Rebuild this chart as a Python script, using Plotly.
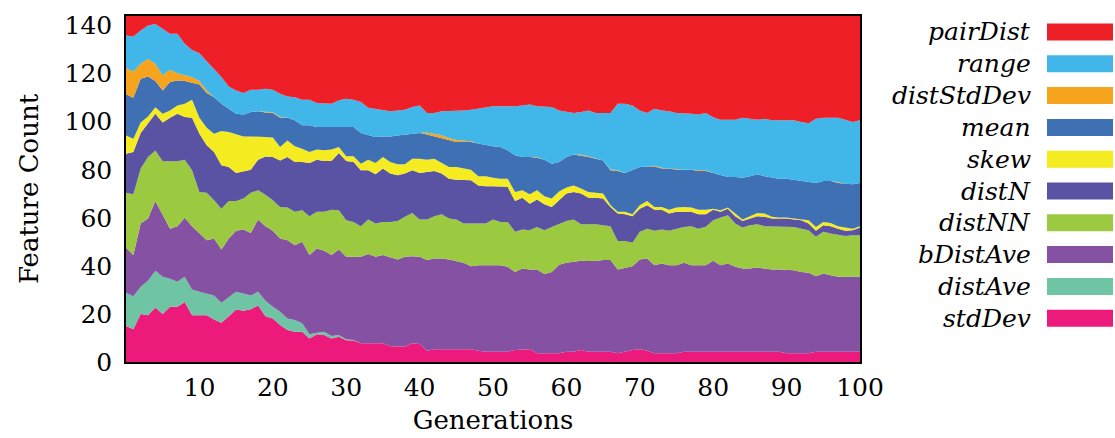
import plotly.graph_objects as go

generations = list(range(0, 101))

stdDev = [15, 13.6, 20, 19.5, 22.7, 20, 23, 23, 25, 19.5, 19.5, 19.5, 17.7, 16.3, 19, 21.9, 21.3, 22, 23.5, 19,
          18.1, 15.4, 13.3, 12.6, 12.6, 9.8, 11.6, 11.2, 9.8, 10.5, 9.1, 8.9, 7.8, 7.8, 7.8, 7.8, 6.6, 6.4, 6.4, 7.8,
          7.5, 4.7, 5.3, 5.3, 5.3, 5.3, 5.3, 5.3, 4.7, 4.3, 4.3, 4.3, 4.3, 5.0, 5.3, 5.3, 3.6, 3.6, 3.6, 3.6,
          4.3, 4.3, 5.0, 4.3, 4.3, 4.3, 4.3, 3.6, 4.3, 5.0, 5.3, 4.7, 3.6, 3.6, 3.6, 3.6, 4.3, 4.3, 4.3, 4.3,
          4.3, 4.3, 4.3, 4.3, 4.3, 4.3, 4.3, 4.3, 4.3, 4.3, 3.6, 3.6, 3.6, 3.6, 4.3, 4.3, 4.3, 4.3, 4.3, 4.3, 4.3]
distAve = [13.8, 13.8, 11.3, 14.3, 15.3, 15.5, 11.6, 10.4, 10.5, 10.7, 9.7, 9.0, 10.0, 8.4, 7.9, 7.3, 7.2, 5.7, 5.7, 6.5,
           4.9, 5.5, 4.8, 4.9, 3.5, 1.8, 0.6, 1.4, 1.0, 0.7, 0.4, 0.3, 0, 0, 0, 0, 0, 0, 0, 0,
           0, 0, 0, 0, 0, 0, 0, 0, 0, 0, 0, 0, 0, 0, 0, 0, 0, 0, 0, 0,
           0, 0, 0, 0, 0, 0, 0, 0, 0, 0, 0, 0, 0, 0, 0, 0, 0, 0, 0, 0,
           0, 0, 0, 0, 0, 0, 0, 0, 0, 0, 0, 0, 0, 0, 0, 0, 0, 0, 0, 0, 0]
bDistAve = [18.8, 17.1, 26.3, 25.9, 29.0, 25.5, 20.9, 23.1, 24.5, 26.3, 24.5, 22.2, 23.7, 22.1, 24.5, 25.4, 26.6, 26.0, 30.1, 31.0,
            31.6, 30.5, 32.6, 31.1, 33.9, 32.9, 35.0, 33.7, 33.7, 35.6, 34.3, 34.6, 36.0, 37.1, 36.0, 36.7, 36.9, 36.3, 37.4, 36.2,
            36.3, 37.7, 37.8, 37.8, 37.4, 36.8, 36.0, 34.6, 35.6, 36.0, 36.0, 36.0, 35.3, 32.5, 33.6, 33.2, 34.9, 33.0, 33.9, 36.9,
            37.0, 37.4, 37.1, 37.7, 37.7, 38.1, 38.1, 34.9, 35.0, 34.9, 37.4, 38.4, 36.7, 37.4, 36.7, 36.7, 37.0, 36.0, 36.0, 36.0,
            37.8, 36.0, 36.7, 35.3, 34.6, 34.6, 35.0, 34.6, 34.2, 34.2, 34.9, 34.6, 33.9, 33.5, 31.4, 32.5, 31.8, 31.2, 31.2, 31.2, 31.2]
distNN = [22.8, 25.3, 22.9, 25.6, 21.0, 22.5, 28.0, 27.0, 24.2, 23.3, 17.1, 19.7, 15.9, 17.0, 15.6, 12.4, 12.9, 16.7, 12.2, 13.1,
          12.7, 13.1, 13.6, 13.9, 13.2, 16.2, 15.3, 16.2, 18.9, 16.4, 15.2, 14.5, 12.7, 14.4, 13.8, 13.8, 14.8, 16.0, 16.6, 18.0,
          15.5, 16.9, 17.6, 18.4, 17.0, 17.2, 16.3, 17.7, 17.3, 17.3, 19.0, 18.0, 18.7, 16.7, 16.2, 16.3, 17.7, 18.2, 18.7, 17.1,
          17.4, 17.6, 15.2, 15.3, 15.3, 14.5, 14.1, 11.9, 11.1, 9.7, 11.5, 12.4, 14.3, 14.1, 14.3, 15.2, 14.9, 16.2, 15.2, 16.0,
          16.9, 19.8, 20.1, 18.0, 17.1, 18.0, 18.0, 17.6, 18.0, 18.0, 18.0, 18.0, 18.0, 17.7, 16.4, 17.4, 17.4, 17.3, 16.9, 17.3, 17.3]
distN = [16.3, 17.6, 14.8, 14.1, 15.3, 16.2, 18.2, 19.8, 17.8, 21.9, 24.2, 19.8, 20.1, 18.1, 14.2, 11.7, 11.5, 9.6, 12.7, 15.9,
         18.0, 19.4, 21.0, 20.7, 20.0, 22.1, 21.7, 21.2, 20.3, 23.8, 24.7, 24.9, 23.3, 20.5, 20.5, 22.2, 20.1, 19.0, 18.0, 17.8,
         19.4, 19.8, 18.8, 16.9, 16.6, 16.6, 18.3, 18.0, 15.9, 15.5, 13.8, 14.8, 14.6, 12.8, 13.3, 11.1, 11.4, 10.9, 8.3, 9.7,
         11.4, 11.5, 12.8, 11.1, 11.1, 11.1, 8.0, 11.4, 11.1, 11.1, 9.6, 9.7, 8.8, 8.3, 7.2, 7.0, 6.3, 6.0, 6.0, 5.2,
         4.4, 2.4, 2.7, 3.1, 2.7, 2.8, 3.4, 3.9, 3.2, 3.2, 3.2, 3.1, 3.5, 2.8, 2.5, 2.7, 3.0, 2.7, 2.2, 2.0, 3.2]
skew = [7.6, 5.5, 4.4, 2.8, 2.7, 3.6, 3.0, 3.5, 5.5, 7.4, 6.7, 7.3, 7.6, 14.2, 14.5, 16.0, 14.4, 13.9, 9.7, 8.1,
        8.1, 5.6, 6.9, 6.6, 5.6, 4.6, 4.2, 4.4, 4.7, 2.5, 1.9, 2.4, 2.7, 4.4, 4.7, 4.8, 4.8, 4.6, 3.9, 4.8,
        5.9, 5.1, 5.1, 4.4, 4.9, 5.3, 4.6, 4.4, 3.8, 4.2, 3.6, 3.2, 3.4, 3.8, 3.1, 3.9, 3.9, 3.3, 3.5, 3.7,
        2.5, 2.7, 2.1, 2.4, 2.0, 2.1, 0.8, 0.7, 1.0, 0.8, 1.4, 1.8, 1.1, 1.1, 1.6, 1.8, 2.0, 1.8, 1.9, 1.9,
        0.4, 0.7, 0.5, 1.1, 0.6, 1.0, 1.3, 1.4, 0.7, 0.4, 0.4, 0.4, 0.3, 1.4, 1.6, 1.4, 1.4, 1.0, 1.4, 0.7, 0.5]
mean = [17.1, 17.1, 18.2, 16.6, 10.9, 9.7, 11.8, 10.4, 9.4, 7.0, 13.8, 14.5, 15.2, 11.4, 9.7, 8.6, 9.1, 10.1, 10.5, 10.2,
        10.2, 12.2, 9.5, 10.8, 9.7, 11.1, 9.4, 9.7, 9.4, 8.6, 12.2, 12.2, 12.8, 10.1, 10.8, 8.6, 10.7, 12.0, 12.4, 10.4,
        10.7, 10.5, 9.3, 10.4, 11.0, 10.4, 11.1, 11.6, 13.6, 12.9, 13.1, 13.2, 11.8, 15.2, 13.8, 15.5, 13.5, 15.2, 14.5, 12.2,
        12.7, 12.9, 13.8, 14.5, 14.2, 13.8, 14.5, 17.0, 16.2, 18.5, 16.0, 14.4, 16.9, 16.0, 17.1, 15.7, 15.5, 15.7, 16.1, 16.1,
        14.9, 14.5, 12.7, 15.2, 17.4, 16.6, 16.1, 15.5, 16.3, 16.2, 16.2, 16.2, 16.3, 15.9, 18.3, 17.0, 17.4, 18.0, 18.2, 18.5, 18.0]
distStdDev = [11.0, 10.9, 6.2, 7.4, 7.2, 6.3, 5.1, 3.0, 2.4, 2.5, 1.4, 1.0, 0, 0, 0, 0, 0, 0, 0, 0.3,
              0.3, 0.3, 0, 0, 0, 0, 0, 0, 0, 0, 0, 0, 0, 0, 0, 0, 0, 0, 0, 0,
              0, 0.8, 1.2, 1.2, 1.0, 0.8, 0.5, 0.3, 0, 0, 0, 0, 0, 0, 0, 0, 0.3, 0, 0, 0,
              0, 0, 0.3, 0.3, 0, 0, 0.3, 0.3, 0, 0, 0, 0, 0.3, 0.3, 0, 0, 0, 0, 0.3, 0.3,
              0, 0, 0, 0, 0, 0, 0, 0, 0, 0, 0, 0, 0, 0, 0, 0, 0, 0.3, 0, 0, 0]
range_ = [13.5, 14.6, 13.9, 13.8, 16.6, 19.3, 15.0, 16.4, 13.1, 11.3, 11.6, 12.2, 11.8, 11.1, 9.3, 9.7, 9.0, 9.3, 8.9, 9.6,
          9.4, 9.6, 8.8, 9.6, 10.6, 10.6, 10.0, 9.7, 9.7, 10.8, 11.8, 11.3, 12.9, 11.5, 11.8, 11.1, 10.5, 10.4, 10.3, 11.1,
          11.5, 8.1, 8.5, 10.0, 11.2, 12.0, 12.6, 13.1, 14.5, 15.9, 16.6, 16.9, 18.3, 20.4, 21.5, 21.9, 21.1, 22.2, 23.6, 21.5,
          18.7, 17.2, 17.7, 19.1, 19.0, 19.7, 23.5, 27.7, 28.8, 26.8, 23.5, 22.2, 23.7, 23.9, 23.9, 23.6, 23.6, 23.3, 23.2, 23.8,
          23.2, 23.1, 23.8, 23.8, 25.0, 23.9, 22.7, 23.9, 23.9, 24.3, 24.3, 24.7, 24.3, 24.5, 26.7, 26.4, 26.4, 26.9, 26.6, 25.9, 26.1]
pairDist = [8.1, 8.5, 6.0, 4.0, 3.3, 5.4, 7.4, 7.4, 11.6, 14.1, 15.5, 18.8, 22.0, 25.4, 29.3, 31.0, 32.0, 30.7, 30.7, 30.3,
            30.7, 32.4, 33.5, 33.8, 34.9, 34.9, 36.2, 36.5, 36.5, 35.1, 34.4, 34.9, 35.8, 38.2, 38.6, 39.0, 39.6, 39.3, 39.0, 37.9,
            37.2, 40.4, 40.4, 39.6, 39.6, 39.6, 39.3, 39.0, 38.6, 37.9, 37.6, 37.6, 37.6, 37.6, 37.2, 36.8, 37.6, 37.6, 37.9, 39.3,
            40.0, 40.4, 40.0, 39.3, 40.4, 40.4, 40.4, 36.5, 36.5, 37.2, 39.3, 40.4, 38.6, 39.3, 39.6, 40.4, 40.4, 40.7, 41.0, 40.4,
            42.1, 43.2, 43.2, 43.2, 42.3, 42.8, 43.2, 42.8, 43.4, 43.4, 43.4, 43.4, 44.1, 44.6, 42.8, 42.3, 42.3, 42.3, 43.2, 44.1, 43.4]

series_names = ["stdDev", "distAve", "bDistAve", "distNN", "distN", "skew", "mean", "distStdDev", "range", "pairDist"]
series_values = [stdDev, distAve, bDistAve, distNN, distN, skew, mean, distStdDev, range_, pairDist]
colors = ["#EC1A7B", "#6EC4A3", "#8551A2", "#9BC93F", "#5A52A3", "#F4EB21", "#4070B4", "#F6A31E", "#41B7E9", "#EE1F27"]

x_ticks = [10, 20, 30, 40, 50, 60, 70, 80, 90, 100]
y_ticks = [0, 20, 40, 60, 80, 100, 120, 140]

fig = go.Figure()
for name, vals, col in zip(series_names, series_values, colors):
    fig.add_trace(go.Scatter(
        x=generations, y=vals, name=name, mode="lines",
        stackgroup="one", line=dict(width=0, color=col), fillcolor=col,
        showlegend=False, hoverinfo="skip"))

serif = "DejaVu Serif"
fig.update_layout(
    width=1115, height=438,
    margin=dict(l=126, r=255, t=16, b=76, autoexpand=False),
    paper_bgcolor="white", plot_bgcolor="white",
    font=dict(family=serif, size=25, color="black"),
    xaxis=dict(range=[0, 100], tickvals=x_ticks, ticks="", showgrid=False, zeroline=False,
               showline=True, linecolor="black", linewidth=1.5, mirror=True, automargin=False,
               ticklabelstandoff=2,
               title=dict(text="Generations", font=dict(size=26), standoff=10),
               tickfont=dict(size=25)),
    yaxis=dict(range=[0, 144], tickvals=y_ticks, ticks="", showgrid=False, zeroline=False,
               showline=True, linecolor="black", linewidth=1.5, mirror=True, automargin=False,
               ticklabelstandoff=7,
               title=dict(text="Feature Count", font=dict(size=26), standoff=18),
               tickfont=dict(size=25)),
)

# Custom legend: right-aligned italic labels with swatches on the right
legend_top = 32
legend_step = 31.8
for i, (name, col) in enumerate(zip(reversed(series_names), reversed(colors))):
    yc = legend_top + i * legend_step
    fig.add_shape(type="rect", xref="paper", yref="paper",
                  x0=(1047 - 126) / (1115 - 126 - 255), x1=(1113 - 126) / (1115 - 126 - 255),
                  y0=(362 - (yc + 8.5)) / (362 - 16), y1=(362 - (yc - 8.5)) / (362 - 16),
                  fillcolor=col, line=dict(width=0))
    fig.add_annotation(xref="paper", yref="paper",
                       x=(1033 - 126) / (1115 - 126 - 255), y=(362 - yc) / (362 - 16),
                       xanchor="right", yanchor="middle", showarrow=False,
                       text="<i>" + name + "</i>", font=dict(family=serif, size=25, color="black"))

fig.write_html("out.html")
